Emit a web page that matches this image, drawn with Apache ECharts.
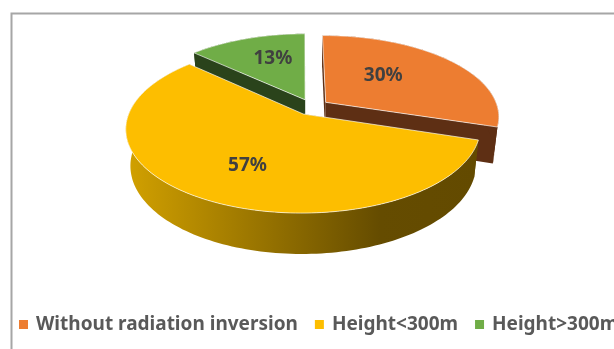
<!DOCTYPE html>
<html>
<head>
<meta charset="utf-8">
<style>html,body{margin:0;padding:0;background:#fff}#chart{width:614px;height:349px}</style>
<script src="https://cdn.jsdelivr.net/npm/echarts@6/dist/echarts.min.js"></script>
</head>
<body>
<div id="chart"></div>
<script>
// Share of cases by radiation inversion height
const categories = ['Without radiation inversion', 'Height<300m', 'Height>300m'];
const shares = [30, 57, 13];

const topColors = ['#ED7D31', '#FDBE00', '#70AD47'];
const wallColors = ['#5E2F14', '#6A5000', '#2A431B'];
const paintOrder = [2, 3, 1];

// Label placement: fraction of the radius along the slice's bisector, then a small pixel nudge
const labelReach = [0.5, 0.62, 0.55];
const labelNudge = [[-7, -5], [5, 3], [2, -5]];

// Tilted-disc projection: model coordinates on a unit circle, seen in perspective
const view = { cx: 312, cy: 107, rx: 172, ry: 79.6, persp: 0.17, depth: 35.5, shrink: 0.975,
               explode: 0.1, firstAngle: -0.5 };

function project(mx, my, lower) {
  const f = 1 / (1 - view.persp * my);
  let x = view.rx * mx * f;
  let y = view.ry * my * f;
  if (lower) {
    x *= view.shrink;
    y = y * view.shrink + view.depth * f;
  }
  return [view.cx + x, view.cy + y];
}

const total = shares.reduce((a, b) => a + b, 0);
function sliceAngles(index) {
  const before = shares.slice(0, index).reduce((a, b) => a + b, 0);
  const toRad = Math.PI / 180;
  const a0 = (view.firstAngle + before / total * 360) * toRad;
  const a1 = a0 + shares[index] / total * 2 * Math.PI;
  return [a0, a1];
}

function arcPoints(a0, a1, ox, oy, lower) {
  const steps = Math.max(8, Math.ceil((a1 - a0) * 40));
  const pts = [];
  for (let i = 0; i <= steps; i++) {
    const a = a0 + (a1 - a0) * i / steps;
    pts.push(project(ox + Math.sin(a), oy - Math.cos(a), lower));
  }
  return pts;
}

function renderSlice(index, api) {
  const [a0, a1] = sliceAngles(index);
  const mid = (a0 + a1) / 2;
  const ox = view.explode * Math.sin(mid);
  const oy = -view.explode * Math.cos(mid);
  const upper = arcPoints(a0, a1, ox, oy, false);
  const lower = arcPoints(a0, a1, ox, oy, true);
  const apexTop = project(ox, oy, false);
  const apexLow = project(ox, oy, true);
  const wallFill = wallColors[index];

  const sideFill = index === 1
    ? new echarts.graphic.LinearGradient(0, 0, 1, 0, [
        { offset: 0, color: '#D2A100' },
        { offset: 0.72, color: '#654C00' },
        { offset: 1, color: '#634A00' }
      ])
    : wallFill;

  const wall = (outerTop, outerLow) => ({
    type: 'polygon',
    shape: { points: [apexTop, outerTop, outerLow, apexLow] },
    style: { fill: wallFill }
  });

  const children = [
    wall(upper[0], lower[0]),
    wall(upper[upper.length - 1], lower[lower.length - 1]),
    {
      type: 'polygon',
      shape: { points: upper.concat(lower.slice().reverse()) },
      style: { fill: sideFill }
    },
    {
      type: 'polygon',
      shape: { points: [apexTop].concat(upper) },
      style: { fill: topColors[index], stroke: 'rgba(255,255,255,0.65)', lineWidth: 1 }
    }
  ];

  const reach = labelReach[index];
  const labelAt = project(ox + reach * Math.sin(mid), oy - reach * Math.cos(mid), false);
  children.push({
    type: 'text',
    style: {
      x: labelAt[0] + labelNudge[index][0], y: labelAt[1] + labelNudge[index][1],
      text: api.value(0) + '%',
      fill: '#404040',
      font: 'bold 19px "Noto Sans", sans-serif',
      align: 'center', verticalAlign: 'middle'
    }
  });
  return { type: 'group', children };
}

const series = categories.map((name, index) => ({
  type: 'custom',
  name,
  coordinateSystem: 'none',
  z: paintOrder[index],
  silent: true,
  animation: false,
  itemStyle: { color: topColors[index] },
  data: [[shares[index]]],
  renderItem: (params, api) => renderSlice(index, api)
}));

const chart = echarts.init(document.getElementById('chart'), null, { renderer: 'canvas' });
chart.setOption({
  animation: false,
  backgroundColor: '#fff',
  legend: {
    left: 19,
    top: 315,
    width: 800,
    padding: [0, 0, 0, 0],
    icon: 'rect',
    itemWidth: 9,
    itemHeight: 9,
    itemGap: 17,
    selectedMode: false,
    textStyle: { color: '#595959', fontSize: 19, fontWeight: 'bold',
                 fontFamily: '"Noto Sans", sans-serif', padding: [0, 0, 0, 3] },
    data: categories
  },
  graphic: [
    { type: 'polyline', silent: true,
      shape: { points: [[11.5, 349], [11.5, 13.5], [614, 13.5]] },
      style: { stroke: '#A6A6A6', lineWidth: 2, fill: null } }
  ],
  series
});
</script>
</body>
</html>
